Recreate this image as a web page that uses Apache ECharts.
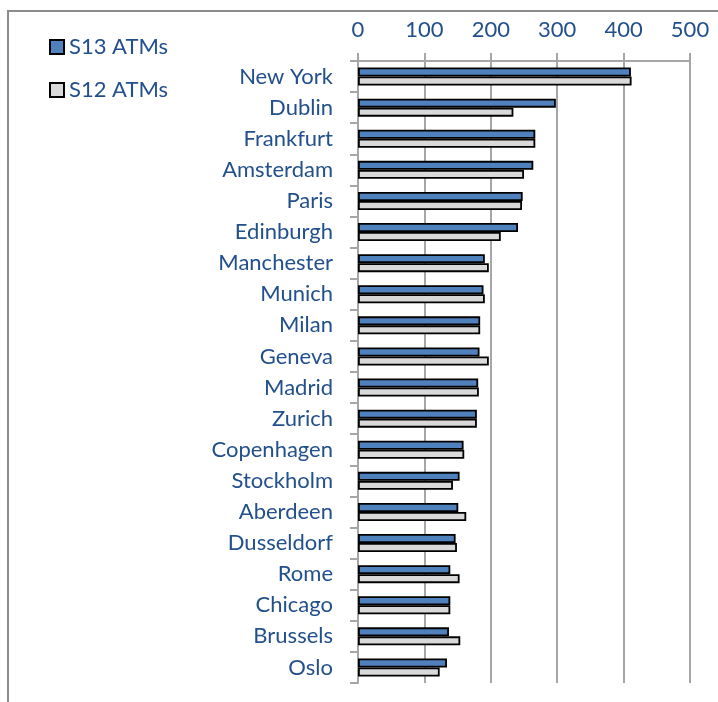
<!DOCTYPE html>
<html>
<head>
<meta charset="utf-8">
<script src="https://cdn.jsdelivr.net/npm/echarts@6/dist/echarts.min.js"></script>
<style>
html,body{margin:0;padding:0;background:#fff;}
#c{width:718px;height:702px;}
</style>
</head>
<body>
<div id="c"></div>
<script>
const cities = ["New York","Dublin","Frankfurt","Amsterdam","Paris","Edinburgh","Manchester","Munich","Milan","Geneva","Madrid","Zurich","Copenhagen","Stockholm","Aberdeen","Dusseldorf","Rome","Chicago","Brussels","Oslo"];
const s13 = [411,298,267,264,248,241,191,189,184,183,181,179,159,153,151,147,139,139,137,134];
const s12 = [412,234,267,250,247,215,197,191,184,197,182,179,160,143,163,149,153,139,154,123];
const xTicks = [0,100,200,300,400,500];

const textColor = '#22508C';
const lineColor = '#A6A6A6';
const chart = echarts.init(document.getElementById('c'), null, {renderer:'canvas'});
chart.setOption({
  animation:false,
  textStyle:{fontFamily:'Lato'},
  graphic:[{
    type:'rect', silent:true,
    shape:{x:8,y:11,width:740,height:720},
    style:{fill:'none',stroke:'#8C8C8C',lineWidth:2}
  }],
  legend:{
    orient:'vertical', left:44, top:31, itemWidth:14, itemHeight:14, itemGap:21, icon:'rect',
    textStyle:{color:textColor,fontSize:22,fontFamily:'Lato'},
    data:['S13 ATMs','S12 ATMs']
  },
  grid:{left:358,right:28,top:61,bottom:19,containLabel:false},
  xAxis:{
    type:'value', position:'top', min:xTicks[0], max:xTicks[xTicks.length-1], interval:100,
    axisLine:{show:true,lineStyle:{color:lineColor,width:2}},
    axisTick:{show:true,length:8,lineStyle:{color:lineColor,width:2}},
    splitLine:{show:true,lineStyle:{color:lineColor,width:2}},
    axisLabel:{color:textColor,fontSize:22,fontFamily:'Lato',margin:20}
  },
  yAxis:{
    type:'category', inverse:true, data:cities,
    axisLine:{show:true,lineStyle:{color:lineColor,width:2}},
    axisTick:{show:true,length:8,lineStyle:{color:lineColor,width:2}},
    axisLabel:{color:textColor,fontSize:22,fontFamily:'Lato',margin:25}
  },
  series:[
    {name:'S13 ATMs',type:'bar',data:s13,barWidth:9,barGap:'0%',
     itemStyle:{color:'#4F81BD',borderColor:'#000',borderWidth:1.8}},
    {name:'S12 ATMs',type:'bar',data:s12,barWidth:9,barGap:'0%',
     itemStyle:{color:'#D9D9D9',borderColor:'#000',borderWidth:1.8}}
  ]
});
</script>
</body>
</html>
